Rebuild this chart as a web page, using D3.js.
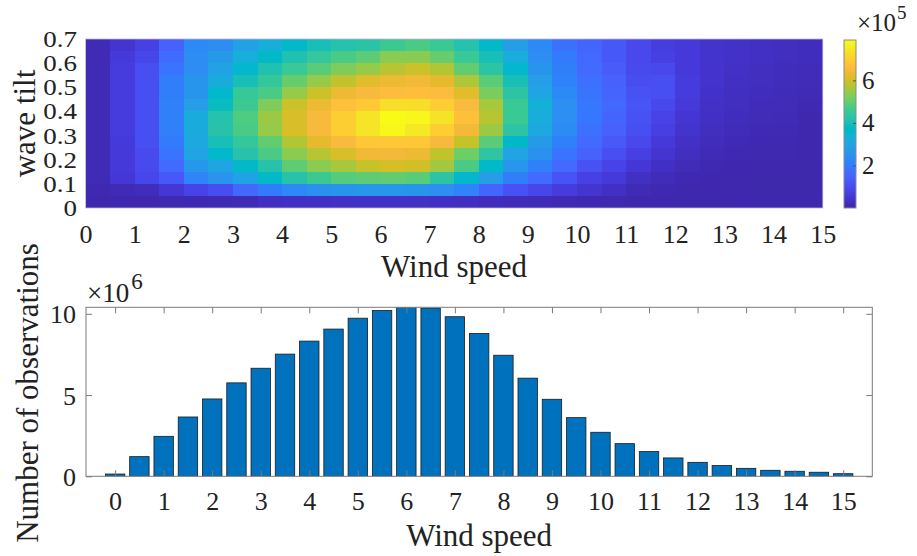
<!DOCTYPE html>
<html><head><meta charset="utf-8">
<script src="https://cdn.jsdelivr.net/npm/d3@7"></script>
<style>
body{margin:0;background:#fff}
svg{display:block}
svg text{font-family:"Liberation Serif","Tinos","Times New Roman",Times,"DejaVu Serif",serif}
</style></head><body>
<svg id="chart" width="917" height="556"></svg>
<script>
// ---------------- DATA ----------------
// Heatmap bins (lower edges)
const windBins = [0,0.5,1,1.5,2,2.5,3,3.5,4,4.5,5,5.5,6,6.5,7,7.5,8,8.5,9,9.5,10,10.5,11,11.5,12,12.5,13,13.5,14,14.5];
const windBinWidth = 0.5;
// wave-tilt lower edges, listed top row first
const tiltBins = [0.65,0.60,0.55,0.50,0.45,0.40,0.35,0.30,0.25,0.20,0.15,0.10,0.05,0.00];
const tiltBinWidth = 0.05;
// counts (x10^5), one array per wind bin, tilt rows top -> bottom
const heatCounts = [
  [0.15,0.15,0.15,0.15,0.15,0.15,0.15,0.15,0.15,0.15,0.15,0.15,0.08,0.05],
  [0.45,0.55,0.6,0.6,0.6,0.6,0.6,0.6,0.55,0.55,0.55,0.5,0.15,0.05],
  [0.75,0.85,1.05,1.05,1.05,1.05,1.05,1.05,1.05,0.95,0.95,0.85,0.2,0.05],
  [1.45,1.7,1.85,2.05,2.05,2.1,2.1,2.1,2.0,1.85,1.65,1.25,0.5,0.08],
  [2.3,2.4,2.4,2.6,2.6,2.8,3.2,3.2,3.1,3.0,2.65,2.2,0.8,0.1],
  [2.4,2.75,2.95,3.2,3.6,3.85,4.15,4.2,4.0,3.6,3.05,2.55,1.0,0.12],
  [2.95,3.3,3.6,4.0,4.5,4.6,4.8,4.75,4.45,4.2,3.7,2.95,1.6,0.15],
  [3.3,3.7,4.1,4.45,4.75,5.25,5.5,5.45,5.0,4.75,4.2,3.7,2.0,0.25],
  [3.7,4.1,4.55,5.05,5.45,5.95,6.1,6.1,5.7,5.35,4.95,4.2,2.3,0.3],
  [4.0,4.45,4.9,5.45,5.95,6.35,6.5,6.5,6.25,5.75,5.35,4.6,2.5,0.3],
  [4.15,4.75,5.25,5.85,6.35,6.7,7.0,7.0,6.55,6.1,5.6,4.85,2.6,0.32],
  [4.25,4.95,5.45,6.2,6.5,6.9,7.45,7.45,6.85,6.4,5.9,4.95,2.65,0.33],
  [4.6,5.35,5.75,6.35,6.6,7.3,7.9,7.8,6.85,6.45,6.05,5.0,2.65,0.33],
  [4.75,5.35,5.95,6.45,6.65,7.3,7.8,7.5,6.85,6.35,6.0,4.9,2.6,0.32],
  [4.55,5.05,5.7,6.25,6.6,7.0,7.4,7.0,6.5,5.85,5.55,4.3,2.45,0.3],
  [4.15,4.55,5.0,5.65,6.2,6.55,6.7,6.45,5.9,5.1,4.75,3.6,2.2,0.28],
  [3.7,4.0,4.3,4.9,5.2,5.6,5.75,5.5,4.9,4.35,3.7,2.8,1.55,0.22],
  [2.8,3.25,3.6,4.0,4.3,4.55,4.55,4.3,3.65,3.0,2.65,2.05,1.1,0.18],
  [2.3,2.4,2.6,2.8,3.0,3.35,3.25,3.1,2.75,2.5,2.1,1.65,0.85,0.14],
  [1.8,2.0,2.05,2.15,2.3,2.45,2.45,2.35,2.1,1.85,1.65,1.15,0.6,0.12],
  [1.55,1.6,1.65,1.75,1.85,1.9,1.9,1.8,1.65,1.45,1.1,0.75,0.45,0.1],
  [1.25,1.25,1.35,1.45,1.5,1.6,1.55,1.45,1.3,1.05,0.8,0.55,0.3,0.08],
  [0.9,0.9,0.95,1.0,1.1,1.2,1.1,1.05,0.9,0.7,0.5,0.3,0.15,0.06],
  [0.65,0.7,0.9,1.05,1.05,0.9,0.8,0.7,0.55,0.45,0.3,0.18,0.1,0.05],
  [0.55,0.55,0.55,0.6,0.6,0.57,0.48,0.42,0.32,0.24,0.17,0.1,0.06,0.04],
  [0.42,0.42,0.4,0.4,0.36,0.32,0.3,0.26,0.2,0.15,0.1,0.07,0.05,0.04],
  [0.35,0.35,0.32,0.3,0.27,0.25,0.22,0.19,0.13,0.1,0.07,0.05,0.05,0.05],
  [0.3,0.3,0.26,0.24,0.22,0.19,0.17,0.13,0.1,0.08,0.06,0.04,0.04,0.04],
  [0.26,0.26,0.22,0.21,0.19,0.17,0.15,0.12,0.1,0.08,0.06,0.04,0.04,0.04],
  [0.22,0.22,0.19,0.17,0.14,0.1,0.06,0.06,0.05,0.05,0.04,0.04,0.04,0.04]
];
const colorLimits = [0, 7.9];          // x10^5
const colorbarTicks = [2, 4, 6];
const heatXTicks = [0,1,2,3,4,5,6,7,8,9,10,11,12,13,14,15];
const heatYTicks = [0,0.1,0.2,0.3,0.4,0.5,0.6,0.7];

// Bar chart
const barWinds = [0,0.5,1,1.5,2,2.5,3,3.5,4,4.5,5,5.5,6,6.5,7,7.5,8,8.5,9,9.5,10,10.5,11,11.5,12,12.5,13,13.5,14,14.5,15];
const barCounts = [0.14,1.21,2.46,3.65,4.76,5.75,6.65,7.52,8.32,9.06,9.73,10.2,10.43,10.35,9.82,8.79,7.45,6.04,4.74,3.61,2.71,2.01,1.52,1.13,0.86,0.66,0.49,0.37,0.31,0.25,0.16]; // x10^6
const barXTicks = [0,1,2,3,4,5,6,7,8,9,10,11,12,13,14,15];
const barYTicks = [0,5,10];

// MATLAB parula (64)
const parula = [[0.2422,0.1504,0.6603],[0.2504,0.1650,0.7076],[0.2578,0.1818,0.7511],[0.2647,0.1978,0.7952],[0.2706,0.2147,0.8364],[0.2751,0.2342,0.8710],[0.2783,0.2559,0.8991],[0.2803,0.2782,0.9221],[0.2813,0.3006,0.9414],[0.2810,0.3228,0.9579],[0.2795,0.3447,0.9717],[0.2760,0.3667,0.9829],[0.2699,0.3892,0.9906],[0.2602,0.4123,0.9952],[0.2440,0.4358,0.9988],[0.2206,0.4603,0.9973],[0.1963,0.4847,0.9892],[0.1834,0.5074,0.9798],[0.1786,0.5289,0.9682],[0.1764,0.5499,0.9520],[0.1687,0.5703,0.9359],[0.1540,0.5902,0.9218],[0.1460,0.6091,0.9079],[0.1380,0.6276,0.8973],[0.1248,0.6459,0.8883],[0.1113,0.6635,0.8763],[0.0952,0.6798,0.8598],[0.0689,0.6948,0.8394],[0.0297,0.7082,0.8163],[0.0036,0.7203,0.7917],[0.0067,0.7312,0.7660],[0.0433,0.7411,0.7394],[0.0964,0.7500,0.7120],[0.1408,0.7584,0.6842],[0.1717,0.7670,0.6554],[0.1938,0.7758,0.6251],[0.2161,0.7843,0.5923],[0.2470,0.7918,0.5567],[0.2906,0.7973,0.5188],[0.3406,0.8008,0.4789],[0.3909,0.8029,0.4354],[0.4456,0.8024,0.3909],[0.5044,0.7993,0.3480],[0.5616,0.7942,0.3045],[0.6174,0.7876,0.2612],[0.6720,0.7793,0.2227],[0.7242,0.7698,0.1910],[0.7738,0.7598,0.1646],[0.8203,0.7498,0.1535],[0.8634,0.7406,0.1596],[0.9035,0.7330,0.1774],[0.9393,0.7288,0.2100],[0.9728,0.7298,0.2394],[0.9956,0.7434,0.2371],[0.9970,0.7659,0.2199],[0.9952,0.7893,0.2028],[0.9892,0.8136,0.1885],[0.9786,0.8386,0.1766],[0.9676,0.8639,0.1643],[0.9610,0.8890,0.1537],[0.9597,0.9135,0.1423],[0.9628,0.9373,0.1265],[0.9691,0.9606,0.1064],[0.9769,0.9839,0.0805]];

// ---------------- DRAW ----------------
const svg = d3.select("#chart");
const textColor = "#222";
const axisColor = "#7a7a7a";
const tickFont = 26;

const parulaColors = parula.map(c => d3.rgb(c[0]*255, c[1]*255, c[2]*255));
const color = d3.scaleLinear()
  .domain(parulaColors.map((_, i) => colorLimits[0] + i/(parulaColors.length-1)*(colorLimits[1]-colorLimits[0])))
  .range(parulaColors).interpolate(d3.interpolateRgb).clamp(true);

// ===== Heatmap =====
const hx = d3.scaleLinear().domain([0, 15]).range([85.5, 822.7]);
const hy = d3.scaleLinear().domain([0, 0.7]).range([208, 39]);

const cells = [];
windBins.forEach((w, i) => tiltBins.forEach((t, j) => cells.push({w, t, v: heatCounts[i][j]})));

svg.append("g").selectAll("rect").data(cells).join("rect")
  .attr("x", d => hx(d.w))
  .attr("y", d => hy(d.t + tiltBinWidth))
  .attr("width", d => hx(d.w + windBinWidth) - hx(d.w) + 0.4)
  .attr("height", d => hy(d.t) - hy(d.t + tiltBinWidth) + 0.4)
  .attr("fill", d => color(d.v))
  .attr("shape-rendering", "crispEdges");

svg.append("rect")
  .attr("x", hx(0)).attr("y", hy(0.7))
  .attr("width", hx(15) - hx(0)).attr("height", hy(0) - hy(0.7))
  .attr("fill", "none").attr("stroke", "#b8b4e0").attr("stroke-width", 1).attr("opacity", 0.8);

const hxAxis = svg.append("g").attr("transform", `translate(0,${hy(0)})`)
  .call(d3.axisBottom(hx).tickValues(heatXTicks).tickSize(0).tickFormat(d3.format("d")));
hxAxis.select(".domain").remove();
hxAxis.attr("font-family", null);
hxAxis.selectAll("text").attr("dy", null).attr("y", 35)
  .attr("font-size", tickFont).attr("fill", textColor);

const hyAxis = svg.append("g").attr("transform", `translate(${hx(0)},0)`)
  .call(d3.axisLeft(hy).tickValues(heatYTicks).tickSize(0).tickFormat(d => d === 0 ? "0" : d3.format(".1f")(d)));
hyAxis.select(".domain").remove();
hyAxis.attr("font-family", null);
hyAxis.selectAll("text").attr("x", null).attr("dy", null)
  .attr("transform", "translate(-8.5,7.5) scale(1,0.82)")
  .attr("font-size", 27).attr("fill", textColor);

svg.append("text").attr("x", 454).attr("y", 277).attr("text-anchor", "middle")
  .attr("font-size", 31).attr("fill", textColor).text("Wind speed");
svg.append("text").attr("transform", `translate(35,${(hy(0)+hy(0.7))/2}) rotate(-90)`)
  .attr("text-anchor", "middle").attr("font-size", 31).attr("fill", textColor).text("wave tilt");

// ===== Colorbar =====
const cb = {x: 844, w: 12};
const cy = d3.scaleLinear().domain(colorLimits).range([208, 40]);
const defs = svg.append("defs");
const grad = defs.append("linearGradient").attr("id", "parulaGrad")
  .attr("x1", 0).attr("y1", 1).attr("x2", 0).attr("y2", 0);
grad.selectAll("stop").data(parulaColors).join("stop")
  .attr("offset", (d, i) => i/(parulaColors.length-1))
  .attr("stop-color", d => d.formatHex());
svg.append("rect").attr("x", cb.x).attr("y", cy(colorLimits[1]))
  .attr("width", cb.w).attr("height", cy(colorLimits[0]) - cy(colorLimits[1]))
  .attr("fill", "url(#parulaGrad)").attr("stroke", "#8a8a8a").attr("stroke-width", 1);
const cbAxis = svg.append("g").attr("transform", `translate(${cb.x + cb.w},0)`)
  .call(d3.axisRight(cy).tickValues(colorbarTicks).tickSizeInner(-3).tickSizeOuter(0).tickPadding(0));
cbAxis.select(".domain").remove();
cbAxis.attr("font-family", null);
cbAxis.selectAll("line").attr("stroke", "#555");
cbAxis.selectAll("text").attr("x", 6).attr("dy", null).attr("y", 8)
  .attr("font-size", 25).attr("fill", textColor);
const cbExp = svg.append("text").attr("x", 857).attr("y", 31).attr("font-size", 25).attr("fill", textColor);
cbExp.append("tspan").text("×10");
cbExp.append("tspan").attr("font-size", 19).attr("dx", 1).attr("dy", -12).text("5");

// ===== Bar chart =====
const bx = d3.scaleLinear().domain([-0.6, 15.6]).range([86, 872.3]);
const by = d3.scaleLinear().domain([0, 10.4]).range([476.3, 307.3]);

defs.append("clipPath").attr("id", "barClip").append("rect")
  .attr("x", bx(-0.6)).attr("y", by(10.4)).attr("width", bx(15.6) - bx(-0.6)).attr("height", by(0) - by(10.4));

svg.append("g").attr("clip-path", "url(#barClip)").selectAll("rect")
  .data(barWinds.map((w, i) => ({w, v: barCounts[i]}))).join("rect")
  .attr("x", d => bx(d.w - 0.2))
  .attr("width", d => bx(d.w + 0.2) - bx(d.w - 0.2))
  .attr("y", d => by(d.v))
  .attr("height", d => by(0) - by(d.v))
  .attr("fill", "#0072BD").attr("stroke", "#1a1a1a").attr("stroke-width", 0.8);

// box
svg.append("rect").attr("x", bx(-0.6)).attr("y", by(10.4))
  .attr("width", bx(15.6) - bx(-0.6)).attr("height", by(0) - by(10.4))
  .attr("fill", "none").attr("stroke", axisColor).attr("stroke-width", 1);

// bottom axis with labels
const bxAxis = svg.append("g").attr("transform", `translate(0,${by(0)})`)
  .call(d3.axisBottom(bx).tickValues(barXTicks).tickSizeInner(-6).tickSizeOuter(0).tickFormat(d3.format("d")));
bxAxis.select(".domain").remove();
bxAxis.attr("font-family", null);
bxAxis.selectAll("line").attr("stroke", axisColor);
bxAxis.selectAll("text").attr("dy", null).attr("y", 33.5)
  .attr("font-size", tickFont).attr("fill", textColor);
// top ticks
const btAxis = svg.append("g").attr("transform", `translate(0,${by(10.4)})`)
  .call(d3.axisTop(bx).tickValues(barXTicks).tickSizeInner(-6).tickSizeOuter(0).tickFormat(""));
btAxis.select(".domain").remove();
btAxis.selectAll("line").attr("stroke", axisColor);
// left axis
const byAxis = svg.append("g").attr("transform", `translate(${bx(-0.6)},0)`)
  .call(d3.axisLeft(by).tickValues(barYTicks).tickSizeInner(-6).tickSizeOuter(0).tickPadding(10).tickFormat(d3.format("d")));
byAxis.select(".domain").remove();
byAxis.attr("font-family", null);
byAxis.selectAll("line").attr("stroke", axisColor);
byAxis.selectAll("text").attr("x", -10).attr("dy", null).attr("y", 9)
  .attr("font-size", tickFont).attr("fill", textColor);
// right ticks
const brAxis = svg.append("g").attr("transform", `translate(${bx(15.6)},0)`)
  .call(d3.axisRight(by).tickValues(barYTicks).tickSizeInner(-6).tickSizeOuter(0).tickFormat(""));
brAxis.select(".domain").remove();
brAxis.selectAll("line").attr("stroke", axisColor);

const bExp = svg.append("text").attr("x", 87).attr("y", 302).attr("font-size", 27).attr("fill", textColor);
bExp.append("tspan").text("×10");
bExp.append("tspan").attr("font-size", 23).attr("dx", 2).attr("dy", -13).text("6");

svg.append("text").attr("x", (bx(-0.6)+bx(15.6))/2).attr("y", 546).attr("text-anchor", "middle")
  .attr("font-size", 31).attr("fill", textColor).text("Wind speed");
svg.append("text").attr("transform", `translate(38,393) rotate(-90)`)
  .attr("text-anchor", "middle").attr("font-size", 31).attr("fill", textColor).text("Number of observations");
</script>
</body></html>
